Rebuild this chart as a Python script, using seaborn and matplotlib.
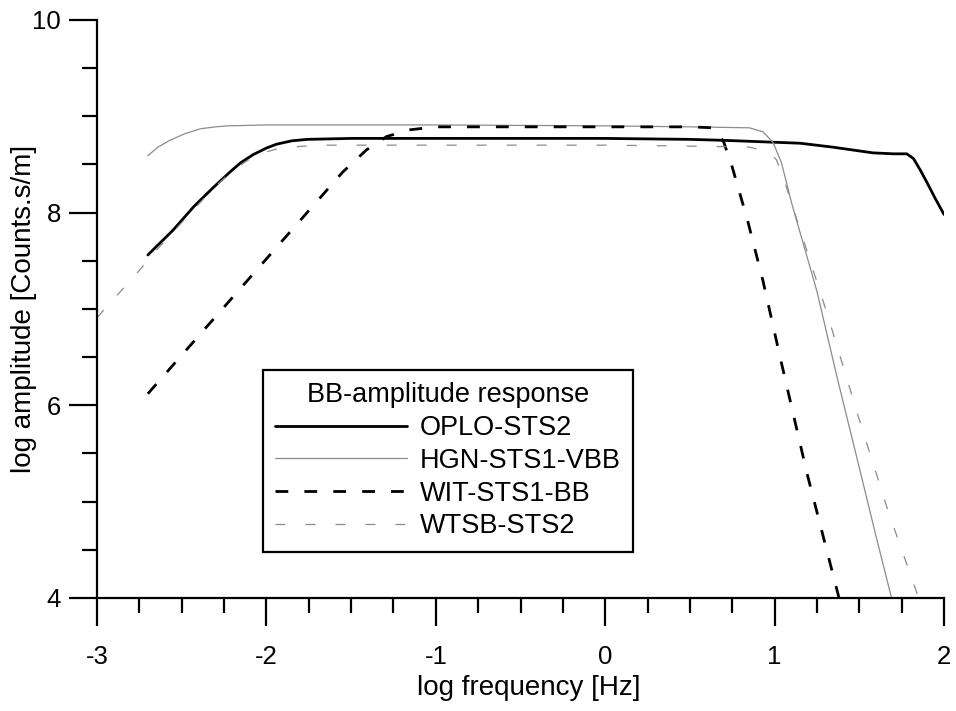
import numpy as np
import pandas as pd
import matplotlib
matplotlib.use("Agg")
import matplotlib.pyplot as plt
from matplotlib.ticker import MultipleLocator
import seaborn as sns

# Amplitude response curves (log10 frequency [Hz] vs log10 amplitude [Counts.s/m])
oplo_f = [-2.70, -2.55, -2.43, -2.32, -2.21, -2.15, -2.08, -2.00, -1.94, -1.85,
          -1.76, -1.50, -1.00, 0.00, 0.50, 0.70, 1.00, 1.15, 1.34, 1.58, 1.70,
          1.78, 1.82, 1.86, 1.90, 1.95, 2.00]
oplo_a = [7.56, 7.82, 8.06, 8.25, 8.43, 8.52, 8.60, 8.67, 8.71, 8.745,
          8.76, 8.77, 8.77, 8.77, 8.76, 8.75, 8.73, 8.72, 8.68, 8.62, 8.61,
          8.61, 8.56, 8.44, 8.31, 8.14, 7.98]

hgn_f = [-2.70, -2.64, -2.57, -2.48, -2.39, -2.30, -2.23, -2.00, -1.00, 0.00,
         0.50, 0.85, 0.93, 0.99, 1.04, 1.10, 1.25, 1.37, 1.50, 1.60, 1.69]
hgn_a = [8.59, 8.68, 8.75, 8.82, 8.87, 8.89, 8.90, 8.91, 8.91, 8.90,
         8.89, 8.88, 8.84, 8.73, 8.52, 8.10, 7.18, 6.28, 5.35, 4.63, 4.00]

wit_f = [-2.70, -2.37, -2.00, -1.76, -1.55, -1.41, -1.29, -1.15, -1.00, 0.00,
         0.50, 0.64, 0.70, 0.75, 0.84, 0.93, 1.04, 1.19, 1.38]
wit_a = [6.12, 6.78, 7.52, 8.00, 8.42, 8.65, 8.79, 8.86, 8.89, 8.89,
         8.89, 8.88, 8.73, 8.47, 7.92, 7.30, 6.44, 5.30, 4.00]

wtsb_f = [-3.00, -2.75, -2.66, -2.55, -2.43, -2.32, -2.21, -2.13, -2.06, -1.92,
          -1.70, -1.00, 0.00, 0.50, 0.85, 0.96, 1.01, 1.05, 1.31, 1.50, 1.67,
          1.85]
wtsb_a = [6.91, 7.40, 7.59, 7.80, 8.03, 8.24, 8.42, 8.52, 8.60, 8.67,
          8.70, 8.70, 8.70, 8.69, 8.68, 8.63, 8.55, 8.37, 6.95, 5.85, 4.90,
          4.00]

series_names = ["OPLO-STS2", "HGN-STS1-VBB", "WIT-STS1-BB", "WTSB-STS2"]
series_data = [(oplo_f, oplo_a), (hgn_f, hgn_a), (wit_f, wit_a), (wtsb_f, wtsb_a)]

frames = []
for name, (f, a) in zip(series_names, series_data):
    frames.append(pd.DataFrame({"series": name, "logf": f, "loga": a}))
df = pd.concat(frames, ignore_index=True)

styles = {
    "OPLO-STS2":    dict(color="black", linewidth=2.0, linestyle="-"),
    "HGN-STS1-VBB": dict(color="#8c8c8c", linewidth=0.9, linestyle="-"),
    "WIT-STS1-BB":  dict(color="black", linewidth=2.0, linestyle=(0, (4.6, 5.8))),
    "WTSB-STS2":    dict(color="#8c8c8c", linewidth=0.9, linestyle=(0, (8, 16))),
}

sns.set_theme(style="ticks")
plt.rcParams["font.family"] = ["Liberation Sans", "DejaVu Sans"]
plt.rcParams["text.color"] = "black"
plt.rcParams["axes.labelcolor"] = "black"

fig = plt.figure(figsize=(9.56, 7.11), dpi=100)
ax = fig.add_axes([0.1015, 0.159, 0.886, 0.813])

for name in series_names:
    sub = df[df["series"] == name]
    sns.lineplot(data=sub, x="logf", y="loga", ax=ax, sort=False,
                 estimator=None, label=name, **styles[name])

ax.set_xlim(-3, 2)
ax.set_ylim(4, 10)
ax.xaxis.set_major_locator(MultipleLocator(1))
ax.xaxis.set_minor_locator(MultipleLocator(0.25))
ax.yaxis.set_major_locator(MultipleLocator(2))
ax.yaxis.set_minor_locator(MultipleLocator(0.5))

for side in ("top", "right"):
    ax.spines[side].set_visible(False)
for side in ("left", "bottom"):
    ax.spines[side].set_linewidth(1.6)
    ax.spines[side].set_color("black")

ax.tick_params(axis="both", which="major", direction="out", length=20,
               width=1.6, color="black", labelsize=18.5, labelcolor="black")
ax.tick_params(axis="both", which="minor", direction="out", length=10.5,
               width=1.6, color="black")
ax.tick_params(axis="x", which="major", pad=14)
ax.tick_params(axis="y", which="major", pad=6)

ax.set_xticklabels([str(int(v)) for v in ax.get_xticks()])

ax.set_xlabel("log frequency [Hz]", fontsize=20, color="black")
ax.set_ylabel("log amplitude [Counts.s/m]", fontsize=20, color="black")
ax.xaxis.set_label_coords(0.51, -0.134)
ax.yaxis.set_label_coords(-0.071, 0.5)
ax.grid(False)
ax.set_facecolor("white")

leg = ax.legend(title="BB-amplitude response", loc="upper left",
                bbox_to_anchor=(0.196, 0.394), borderaxespad=0,
                fontsize=19.5, title_fontsize=19.5, frameon=True, fancybox=False,
                edgecolor="black", handlelength=4.85, handletextpad=0.5,
                labelspacing=0.25, borderpad=0.45)
leg.get_frame().set_linewidth(1.6)
leg.get_frame().set_alpha(1)
for t in leg.get_texts():
    t.set_color("black")
leg.get_title().set_color("black")

fig.savefig("out.png", dpi=100, facecolor="white")
